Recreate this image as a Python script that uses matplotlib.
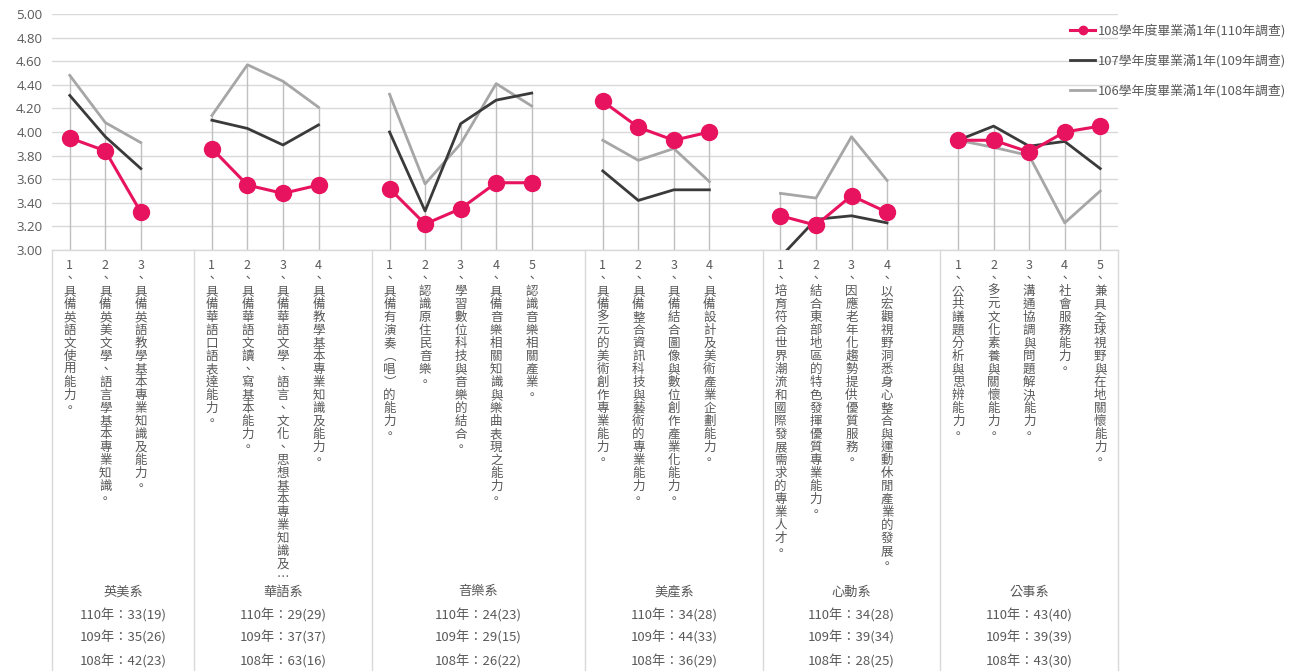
import numpy as np
import matplotlib
matplotlib.use("Agg")
import matplotlib.pyplot as plt

plt.rcParams["font.family"] = ["Noto Sans CJK TC", "DejaVu Sans"]

# ---- data ----
departments = ["英美系", "華語系", "音樂系", "美產系", "心動系", "公事系"]

items = [
    ["1、具備英語文使用能力。",
     "2、具備英美文學、語言學基本專業知識。",
     "3、具備英語教學基本專業知識及能力。"],
    ["1、具備華語口語表達能力。",
     "2、具備華語文讀、寫基本能力。",
     "3、具備華語文學、語言、文化、思想基本專業知識及…",
     "4、具備教學基本專業知識及能力。"],
    ["1、具備有演奏（唱）的能力。",
     "2、認識原住民音樂。",
     "3、學習數位科技與音樂的結合。",
     "4、具備音樂相關知識與樂曲表現之能力。",
     "5、認識音樂相關產業。"],
    ["1、具備多元的美術創作專業能力。",
     "2、具備整合資訊科技與藝術的專業能力。",
     "3、具備結合圖像與數位創作產業化能力。",
     "4、具備設計及美術產業企劃能力。"],
    ["1、培育符合世界潮流和國際發展需求的專業人才。",
     "2、結合東部地區的特色發揮優質專業能力。",
     "3、因應老年化趨勢提供優質服務。",
     "4、以宏觀視野洞悉身心整合與運動休閒產業的發展。"],
    ["1、公共議題分析與思辨能力。",
     "2、多元文化素養與關懷能力。",
     "3、溝通協調與問題解決能力。",
     "4、社會服務能力。",
     "5、兼具全球視野與在地關懷能力。"],
]

counts_110 = ["33(19)", "29(29)", "24(23)", "34(28)", "34(28)", "43(40)"]
counts_109 = ["35(26)", "37(37)", "29(15)", "44(33)", "39(34)", "39(39)"]
counts_108 = ["42(23)", "63(16)", "26(22)", "36(29)", "28(25)", "43(30)"]

series_names = ["108學年度畢業滿1年(110年調查)",
                "107學年度畢業滿1年(109年調查)",
                "106學年度畢業滿1年(108年調查)"]

s108 = [[3.95, 3.84, 3.32],
        [3.86, 3.55, 3.48, 3.55],
        [3.52, 3.22, 3.35, 3.57, 3.57],
        [4.26, 4.04, 3.93, 4.00],
        [3.29, 3.21, 3.46, 3.32],
        [3.93, 3.93, 3.83, 4.00, 4.05]]

s107 = [[4.31, 3.96, 3.69],
        [4.10, 4.03, 3.89, 4.06],
        [4.00, 3.33, 4.07, 4.27, 4.33],
        [3.67, 3.42, 3.51, 3.51],
        [2.94, 3.26, 3.29, 3.23],
        [3.93, 4.05, 3.88, 3.92, 3.69]]

s106 = [[4.48, 4.08, 3.91],
        [4.14, 4.57, 4.43, 4.21],
        [4.32, 3.56, 3.90, 4.41, 4.22],
        [3.93, 3.76, 3.86, 3.58],
        [3.48, 3.44, 3.96, 3.59],
        [3.93, 3.87, 3.80, 3.23, 3.50]]

RED = "#E8135E"
BLACK = "#3A3A3A"
GRAY = "#A6A6A6"
TXT = "#595959"
GRID = "#D9D9D9"

# ---- category positions: one blank slot between departments ----
xpos = []          # x of each item, per department
bounds = [-0.5]    # department separators
slot = 0
for gi, g in enumerate(items):
    xpos.append(list(range(slot, slot + len(g))))
    slot += len(g)
    if gi < len(items) - 1:
        slot += 1  # blank category
    bounds.append(slot - 0.5)
n_slots = slot

W, H = 1294, 671
fig = plt.figure(figsize=(W / 100, H / 100), dpi=100)
ax = fig.add_axes([52 / W, 1 - 250 / H, (1118 - 52) / W, (250 - 14) / H])

ax.set_xlim(-0.5, n_slots - 0.5)
ax.set_ylim(3.0, 5.0)
ax.set_yticks(np.arange(3.0, 5.01, 0.2))
ax.set_yticklabels([f"{v:.2f}" for v in np.arange(3.0, 5.01, 0.2)],
                   family=["Open Sans", "DejaVu Sans"])
ax.tick_params(axis="y", length=0, pad=7, labelsize=9.5, labelcolor=TXT)
ax.set_xticks([])
ax.grid(axis="y", color=GRID, linewidth=1)
ax.set_axisbelow(True)
for side in ["left", "right", "top"]:
    ax.spines[side].set_visible(False)
ax.spines["bottom"].set_color(GRID)
ax.spines["bottom"].set_linewidth(1)

# drop lines from highest value to axis
for gi in range(len(items)):
    for k, x in enumerate(xpos[gi]):
        top = max(s108[gi][k], s107[gi][k], s106[gi][k])
        ax.vlines(x, 3.0, top, color="#BFBFBF", linewidth=1, zorder=1)

# series
for gi in range(len(items)):
    ax.plot(xpos[gi], s106[gi], color=GRAY, linewidth=2.0, zorder=2,
            label=series_names[2] if gi == 0 else None)
    ax.plot(xpos[gi], s107[gi], color=BLACK, linewidth=2.0, zorder=3,
            label=series_names[1] if gi == 0 else None)
    ax.plot(xpos[gi], s108[gi], color=RED, linewidth=2.2, marker="o",
            markersize=11.5, zorder=4,
            label=series_names[0] if gi == 0 else None)

handles, labels = ax.get_legend_handles_labels()
order = [2, 1, 0]
leg = fig.legend([handles[i] for i in order], [labels[i] for i in order],
                 loc="upper left", bbox_to_anchor=(1058 / W, 1 - 12 / H),
                 frameon=False, fontsize=9.3, labelcolor=TXT,
                 handlelength=2.0, handletextpad=0.15, labelspacing=1.25)
for h in leg.legend_handles:
    h.set_markersize(6)

# separators between departments
xtr = ax.get_xaxis_transform()
for b in bounds:
    ax.plot([b, b], [0, -(H - 250) / 236], transform=xtr, color=GRID,
            linewidth=1, clip_on=False)

# vertical item labels
vert_map = {"（": "︵", "）": "︶"}
for gi, g in enumerate(items):
    for k, lab in enumerate(g):
        txt = "\n".join(vert_map.get(c, c) for c in lab)
        ax.annotate(txt, xy=(xpos[gi][k], 0), xycoords=xtr,
                    xytext=(0, -9), textcoords="offset pixels",
                    ha="center", va="top", fontsize=9, color=TXT,
                    linespacing=1.0, multialignment="center")

# department names and counts
for gi, name in enumerate(departments):
    cx = (bounds[gi] + bounds[gi + 1]) / 2
    lines = [name, f"110年：{counts_110[gi]}", f"109年：{counts_109[gi]}",
             f"108年：{counts_108[gi]}"]
    for j, t in enumerate(lines):
        ax.annotate(t, xy=(cx, 0), xycoords=xtr,
                    xytext=(0, -(342 + 23 * j)), textcoords="offset pixels",
                    ha="center", va="center", fontsize=9.5, color=TXT)

fig.savefig("out.png", dpi=100)
